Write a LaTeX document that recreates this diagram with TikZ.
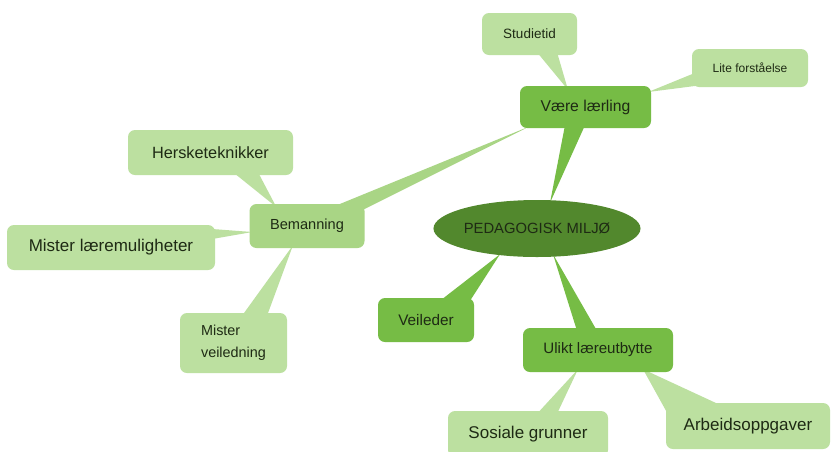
\documentclass[tikz,border=0pt]{standalone}
\usepackage{fontspec}
\setmainfont{Liberation Sans}
\usetikzlibrary{backgrounds,calc,shapes.geometric}
\definecolor{lite}{HTML}{BCE0A0}
\definecolor{litemid}{HTML}{A9D585}
\definecolor{mid}{HTML}{76BC45}
\definecolor{dark}{HTML}{52882D}
\definecolor{txt}{HTML}{1E2A14}
\begin{document}
\begin{tikzpicture}[x=1pt,y=-1pt,
  box/.style={rounded corners=7pt, inner sep=0pt, text=txt},
  litebox/.style={box, fill=lite},
  midbox/.style={box, fill=mid},
  fs/.style={font=\fontsize{#1}{#1}\selectfont}]
\useasboundingbox (0,0) rectangle (832,451);

\node[litebox, fs=13.5, minimum width=95pt, minimum height=42pt] (stud) at (529.5,34) {Studietid};
\node[litebox, fs=12, minimum width=116pt, minimum height=38pt] (lite) at (750,68) {Lite forståelse};
\node[midbox, fs=15.7, minimum width=131pt, minimum height=42pt] (vaere) at (585.5,107) {Være lærling};
\node[ellipse, fill=dark, text=txt, inner sep=0pt, fs=14.8, minimum width=200pt, minimum height=57pt] (ell) at (537,228.5) {PEDAGOGISK MILJØ};
\node[litebox, fs=16.3, minimum width=165pt, minimum height=45pt] (hersk) at (210.5,152.5) {Hersketeknikker};
\node[box, fill=litemid, fs=14.6, minimum width=115pt, minimum height=44pt] (bem) at (307,226) {Bemanning};
\node[litebox, fs=17, minimum width=208pt, minimum height=45pt] (mlm) at (111,247.5) {Mister læremuligheter};
\node[litebox, font=\fontsize{14.4}{22}\selectfont, align=left, minimum width=107pt, minimum height=60pt] (mv) at (233.5,343) {Mister\\veiledning};
\node[midbox, fs=15.3, minimum width=96pt, minimum height=44pt] (veil) at (426,320) {Veileder};
\node[midbox, fs=15.1, minimum width=150pt, minimum height=44pt] (ulikt) at (598,350) {Ulikt læreutbytte};
\node[litebox, fs=17, minimum width=160pt, minimum height=46pt] (sos) at (528,434) {Sosiale grunner};
\node[litebox, fs=17, minimum width=164pt, minimum height=46pt] (arb) at (748,426) {Arbeidsoppgaver};

\begin{scope}[on background layer]
\fill[white] (0,0) rectangle (832,451);
\fill[lite] ($(stud.south)+(7.5,-3)$) -- ($(stud.south)+(27.5,-3)$) -- ($(vaere.north)+(-17.5,4)$) -- cycle;
\fill[lite] ($(lite.west)+(3,5)$) -- ($(lite.west)+(3,18)$) -- ($(vaere.east)+(-3,-15)$) -- cycle;
\fill[litemid] ($(bem.north)+(26,3)$) -- ($(bem.north)+(56,6)$) -- ($(vaere.south)+(-55.5,-2)$) -- cycle;
\fill[mid] ($(vaere.south)+(-20.5,-3)$) -- ($(vaere.south)+(-0.5,-3)$) -- ($(ell.north)+(13,3)$) -- cycle;
\fill[mid] ($(veil.north)+(14,3)$) -- ($(veil.north)+(44,3)$) -- ($(ell.south)+(-37,-3)$) -- cycle;
\fill[mid] ($(ulikt.north)+(-21,3)$) -- ($(ulikt.north)+(-1,3)$) -- ($(ell.south)+(16,-3)$) -- cycle;
\fill[lite] ($(sos.north)+(9,3)$) -- ($(sos.north)+(29,3)$) -- ($(ulikt.south)+(-20,-3)$) -- cycle;
\fill[lite] ($(arb.north)+(-26,3)$) -- ($(arb.west)+(2,-12)$) -- ($(ulikt.south)+(45,-3)$) -- cycle;
\fill[lite] ($(hersk.south)+(22.5,-3)$) -- ($(hersk.south)+(47.5,-3)$) -- ($(bem.west)+(27,-19)$) -- cycle;
\fill[lite] ($(mlm.east)+(-3,-18.5)$) -- ($(mlm.east)+(-3,-8.5)$) -- ($(bem.west)+(3,6)$) -- cycle;
\fill[lite] ($(mv.north)+(8.5,3)$) -- ($(mv.north)+(33.5,3)$) -- ($(bem.south)+(-14,-3)$) -- cycle;
\end{scope}
\end{tikzpicture}
\end{document}
